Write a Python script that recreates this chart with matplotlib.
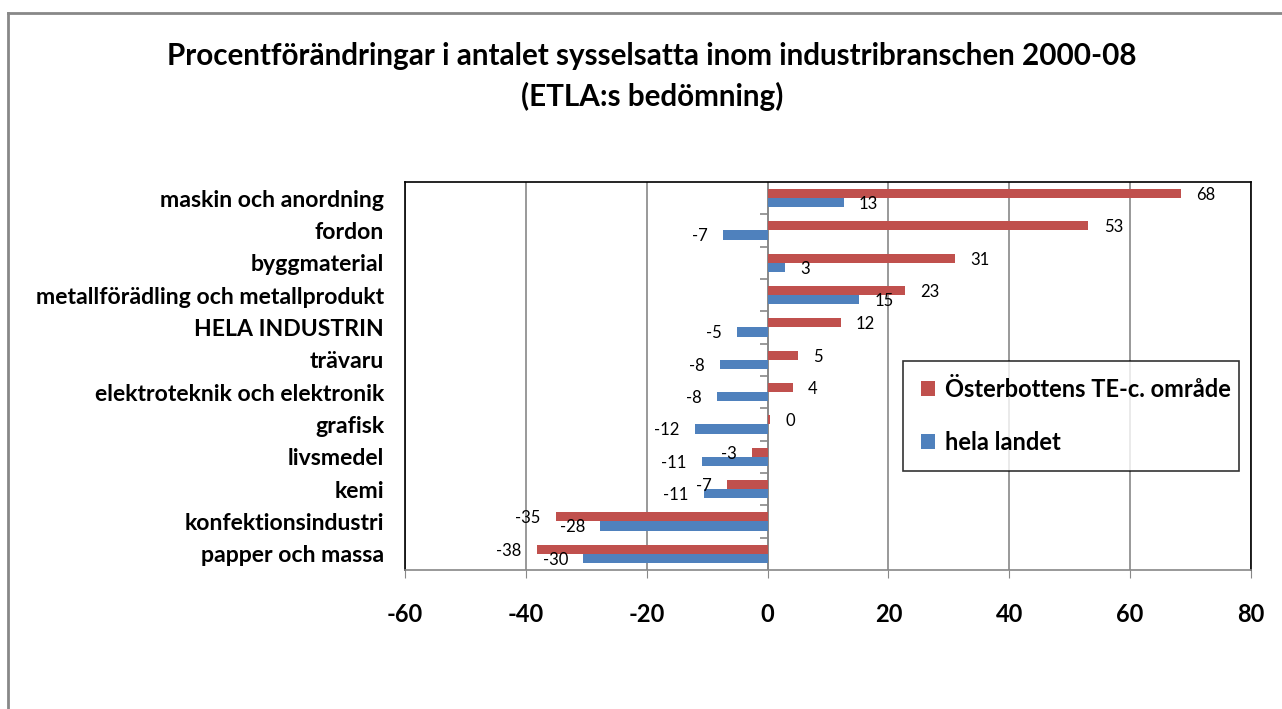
import numpy as np
import matplotlib
matplotlib.use("Agg")
import matplotlib.pyplot as plt
from matplotlib.lines import Line2D

plt.rcParams['font.family'] = ['Lato', 'DejaVu Sans']

# Daten (von oben nach unten)
kategorier = ["maskin och anordning", "fordon", "byggmaterial",
              "metallförädling och metallprodukt", "HELA INDUSTRIN", "trävaru",
              "elektroteknik och elektronik", "grafisk", "livsmedel", "kemi",
              "konfektionsindustri", "papper och massa"]
osterbotten = [68.4, 53.1, 31.0, 22.7, 12.1, 5.0, 4.2, 0.45, -2.6, -6.7, -35.0, -38.2]
hela_landet = [12.6, -7.3, 2.9, 15.2, -5.0, -7.9, -8.4, -12.0, -10.9, -10.6, -27.7, -30.5]
serienamn = ["Österbottens TE-c. område", "hela landet"]
xticks = [-60, -40, -20, 0, 20, 40, 60, 80]

rod = "#c0504d"
bla = "#4f81bd"

fig = plt.figure(figsize=(12.82, 7.09), dpi=100)
ax = fig.add_axes([405 / 1282, 1 - 570 / 709, 846 / 1282, 388 / 709])

# Ram runt diagrammet
fig.add_artist(Line2D([8 / 1282, 8 / 1282], [0, 1 - 13 / 709], transform=fig.transFigure, color="#888888", lw=2))
fig.add_artist(Line2D([8 / 1282, 1], [1 - 13 / 709, 1 - 13 / 709], transform=fig.transFigure, color="#888888", lw=2))

y = np.arange(len(kategorier))
h = 0.28
ax.barh(y - h / 2, osterbotten, height=h, color=rod, label=serienamn[0], zorder=3)
ax.barh(y + h / 2, hela_landet, height=h, color=bla, label=serienamn[1], zorder=3)

# Datavärden
for serie, off in [(osterbotten, -h / 2), (hela_landet, h / 2)]:
    for yi, v in zip(y, serie):
        dx = 11 if v >= 0 else -11
        ax.annotate("%.0f" % v, (v, yi + off), xytext=(dx, -1), textcoords="offset points",
                    ha="left" if v >= 0 else "right", va="center", fontsize=12, zorder=4)

ax.set_xlim(-60, 80)
ax.set_ylim(len(kategorier) - 0.5, -0.5)
ax.set_xticks(xticks)
ax.set_xticklabels([str(t) for t in xticks], fontsize=17, fontweight="bold")
ax.tick_params(axis="x", length=6, color="#888888", pad=18)
ax.set_yticks(y)
ax.set_yticklabels(kategorier, fontsize=16.6, fontweight="bold")
ax.tick_params(axis="y", length=0, pad=15)
ax.grid(axis="x", color="#888888", lw=1.2, zorder=0)

# Vertikal axel vid noll med små markeringar
ax.axvline(0, color="#888888", lw=1.2, zorder=2)
gränser = np.arange(0.5, len(kategorier) - 0.5, 1.0)
ax.hlines(gränser, -1.2, 0, color="#888888", lw=1.2, zorder=2)

for s in ["top", "left", "right"]:
    ax.spines[s].set_color("black")
    ax.spines[s].set_linewidth(1.2)
ax.spines["bottom"].set_color("#888888")
ax.spines["bottom"].set_linewidth(1.2)

leg = ax.legend(loc="lower left", bbox_to_anchor=(0.589, 0.254, 0.397, 0.257), mode="expand",
                prop={"size": 17, "weight": "bold"}, frameon=True, fancybox=False,
                handlelength=0.6, handleheight=0.6, handletextpad=0.4, labelspacing=1.25,
                borderpad=0.75, borderaxespad=0)
leg.get_frame().set_edgecolor("black")
leg.get_frame().set_linewidth(1.2)

fig.text(652 / 1282, 1 - 56 / 709, "Procentförändringar i antalet sysselsatta inom industribranschen 2000-08",
         ha="center", va="center", fontsize=21.3, fontweight="bold")
fig.text(652 / 1282, 1 - 96 / 709, "(ETLA:s bedömning)", ha="center", va="center", fontsize=21.3, fontweight="bold")

fig.savefig("out.png", dpi=100)
